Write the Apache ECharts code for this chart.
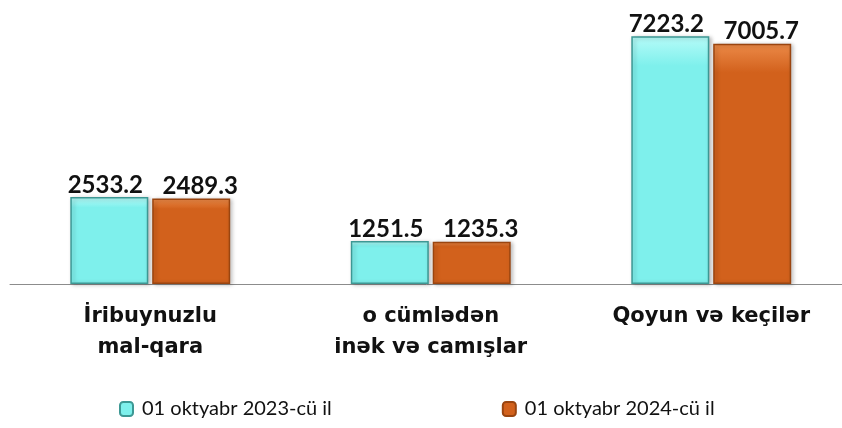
<!DOCTYPE html>
<html>
<head>
<meta charset="utf-8">
<script src="https://cdn.jsdelivr.net/npm/echarts@6/dist/echarts.min.js"></script>
<style>
  html, body { margin: 0; padding: 0; background: #fff; }
  #chart { width: 842px; height: 428px; }
</style>
</head>
<body>
<div id="chart"></div>
<script>
const categories = ['İribuynuzlu\nmal-qara', 'o cümlədən\ninək və camışlar', 'Qoyun və keçilər'];
const seriesNames = ['01 oktyabr 2023-cü il', '01 oktyabr 2024-cü il'];
const values2023 = [2533.2, 1251.5, 7223.2];
const values2024 = [2489.3, 1235.3, 7005.7];

const chart = echarts.init(document.getElementById('chart'));

function barStyle(top, mid, border) {
  return {
    color: new echarts.graphic.LinearGradient(0, 0, 0, 1, [
      { offset: 0, color: top },
      { offset: 0.12, color: mid },
      { offset: 1, color: mid }
    ]),
    borderColor: border,
    borderWidth: 1.5,
    shadowColor: 'rgba(0,0,0,0.25)',
    shadowBlur: 4,
    shadowOffsetX: 2,
    shadowOffsetY: 1
  };
}

function labelStyle(dx) {
  return {
    show: true,
    position: 'top',
    distance: 0,
    offset: [dx, 0],
    fontFamily: 'Lato',
    fontWeight: 'bold',
    fontSize: 24,
    color: '#111'
  };
}

chart.setOption({
  animation: false,
  grid: {
    left: 10, width: 841.5, top: 9.6, bottom: 144,
    containLabel: false, outerBoundsMode: 'none'
  },
  legend: {
    bottom: 4,
    left: 114,
    itemWidth: 13,
    itemHeight: 14,
    itemGap: 170,
    textStyle: { fontFamily: 'Lato', fontSize: 20, color: '#111', padding: [0, 0, 0, 4] },
    data: seriesNames
  },
  xAxis: {
    type: 'category',
    data: categories,
    axisLine: { lineStyle: { color: '#8c8c8c', width: 1 } },
    axisTick: { show: false },
    axisLabel: {
      margin: 17,
      fontFamily: 'DejaVu Sans',
      fontWeight: 'bold',
      fontSize: 21,
      lineHeight: 31,
      color: '#111'
    }
  },
  yAxis: {
    type: 'value',
    min: 0,
    max: 8000,
    show: false,
    splitLine: { show: false }
  },
  series: [
    {
      name: seriesNames[0],
      type: 'bar',
      data: values2023,
      barWidth: 78,
      barGap: '5%',
      itemStyle: barStyle('#b6fbf8', '#7ef0ec', '#3d9894'),
      label: labelStyle(-4)
    },
    {
      name: seriesNames[1],
      type: 'bar',
      data: values2024,
      barWidth: 78,
      itemStyle: barStyle('#ec8a48', '#d2611c', '#9a4510'),
      label: labelStyle(9)
    }
  ]
});
</script>
</body>
</html>
